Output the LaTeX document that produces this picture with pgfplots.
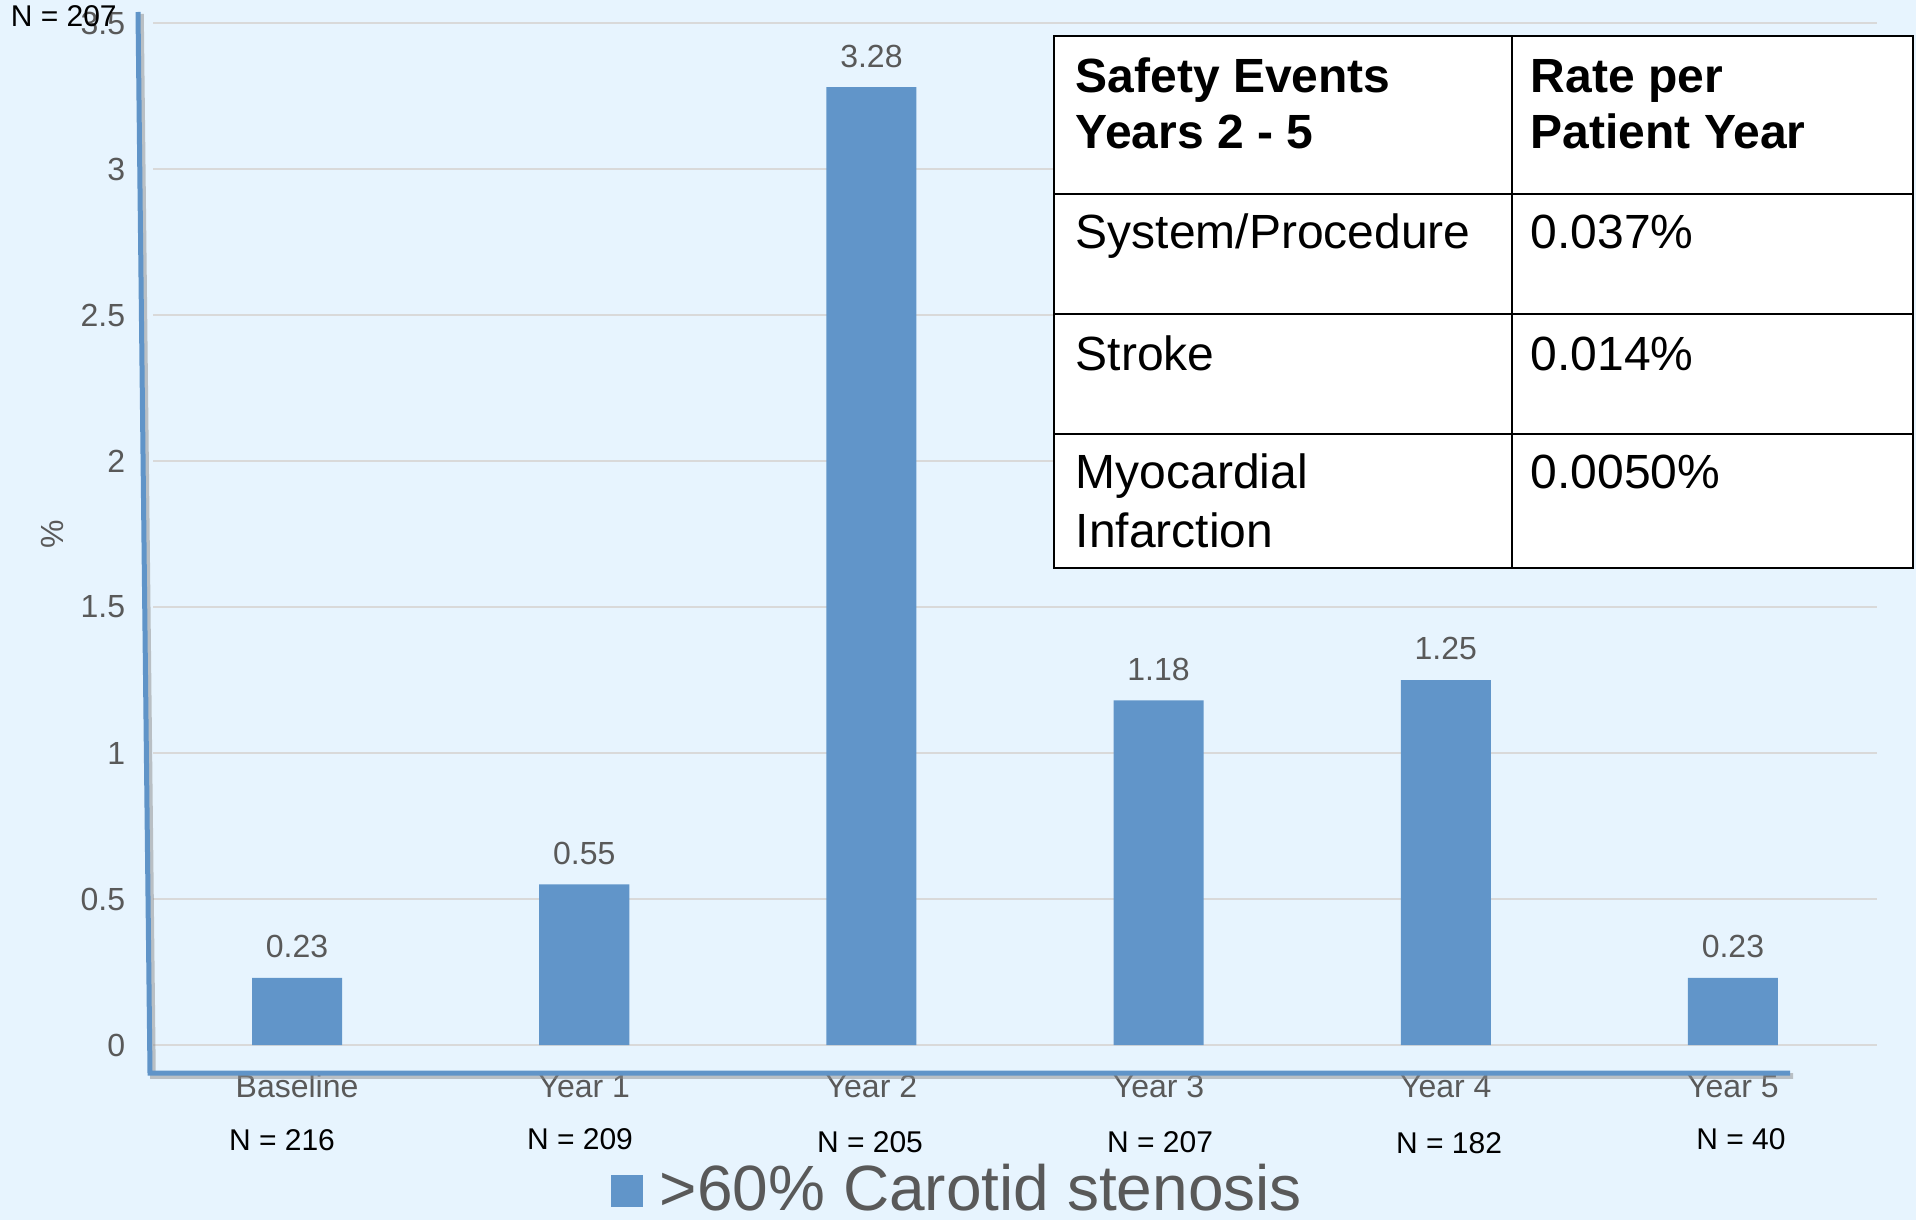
\documentclass[border=0pt]{standalone}
\usepackage{fontspec}
\setmainfont{Liberation Sans}
\usepackage{pgfplots}
\pgfplotsset{compat=1.18}
\definecolor{bg}{RGB}{231,244,254}
\definecolor{barblue}{RGB}{97,149,201}
\definecolor{axisblue}{RGB}{96,148,200}
\definecolor{gridgray}{RGB}{217,217,217}
\definecolor{labgray}{RGB}{89,89,89}
\begin{document}
\begin{tikzpicture}
\fill[bg] (0,0) rectangle (479pt,-305pt);
\begin{axis}[
  at={(38.375pt,-261.25pt)}, anchor=south west,
  scale only axis, width=430.75pt, height=255.5pt,
  xmin=-0.5, xmax=5.5, ymin=0, ymax=3.5,
  axis line style={draw=none},
  ybar, bar width=22.5pt,
  xtick={0,1,2,3,4,5},
  xticklabels={Baseline,Year 1,Year 2,Year 3,Year 4,Year 5},
  ytick={0,0.5,1,1.5,2,2.5,3,3.5},
  major tick length=0pt,
  ymajorgrids, grid style={gridgray, line width=0.5pt},
  /pgf/number format/assume math mode=true,
  yticklabel style={font=\fontsize{8}{9.6}\selectfont, text=labgray, anchor=east, inner sep=0pt, xshift=-6.9pt},
  xticklabel style={font=\fontsize{8}{9.6}\selectfont, text=labgray, anchor=base, inner sep=0pt, yshift=-13.0pt},
  ylabel={\%},
  ylabel style={at={(axis description cs:-0.0585,0.5)}, anchor=center, font=\fontsize{8}{9.6}\selectfont, text=labgray},
  nodes near coords,
  nodes near coords style={font=\fontsize{8}{9.6}\selectfont, text=labgray, anchor=south, inner sep=0pt, yshift=4.75pt, /pgf/number format/fixed, /pgf/number format/precision=2},
  legend style={at={(axis description cs:0.2655,-0.1425)}, anchor=west, draw=none, fill=none, inner sep=0pt, outer sep=0pt,
    font=\fontsize{16}{19}\selectfont, text=labgray, nodes={inner sep=0pt}, column sep=4.25pt},
  legend image code/.code={\fill[barblue] (0pt,-4pt) rectangle (8pt,4pt);},
]
\addplot[fill=barblue, draw=none] coordinates {(0,0.23) (1,0.55) (2,3.28) (3,1.18) (4,1.25) (5,0.23)};
\addlegendentry{>60\% Carotid stenosis}
\end{axis}
\begin{scope}[x=0.25pt,y=-0.25pt]
  % decorative axis lines with shadow
  \draw[black!45, opacity=0.5, line width=1.4pt] (141,14) -- (153,1076) -- (1793,1076);
  \draw[axisblue, line width=1.25pt] (138,12) -- (150,1073) -- (1790,1073);
  % N labels
  \foreach \x/\y/\t in {282/1150/216, 580/1149/209, 870/1152/205, 1160/1152/207, 1449/1153/182, 1741/1149/40}
    \node[anchor=base, inner sep=0pt, font=\fontsize{7.5}{9}\selectfont] at (\x,\y) {N = \t};
  \node[anchor=base west, inner sep=0pt, font=\fontsize{7.5}{9}\selectfont] at (10,27) {N = 207};
  % table
  \fill[white] (1054,36) rectangle (1913,568);
  \draw[black, line width=0.6pt] (1054,36) rectangle (1913,568);
  \draw[black, line width=0.6pt] (1512,36) -- (1512,568);
  \draw[black, line width=0.6pt] (1054,194) -- (1913,194);
  \draw[black, line width=0.6pt] (1054,314) -- (1913,314);
  \draw[black, line width=0.6pt] (1054,434) -- (1913,434);
  \begin{scope}[every node/.style={anchor=base west, inner sep=0pt, font=\fontsize{12}{14}\selectfont}]
    \node at (1075,93) {\bfseries Safety Events};
    \node at (1075,149) {\bfseries Years 2 - 5};
    \node at (1530,93) {\bfseries Rate per};
    \node at (1530,149) {\bfseries Patient Year};
    \node at (1075,249) {System/Procedure};
    \node at (1530,249) {0.037\%};
    \node at (1075,370) {Stroke};
    \node at (1530,370) {0.014\%};
    \node at (1075,488) {Myocardial};
    \node at (1075,547) {Infarction};
    \node at (1530,488) {0.0050\%};
  \end{scope}
\end{scope}
\pgfresetboundingbox
\useasboundingbox (0,0) rectangle (479pt,-305pt);
\end{tikzpicture}
\end{document}
